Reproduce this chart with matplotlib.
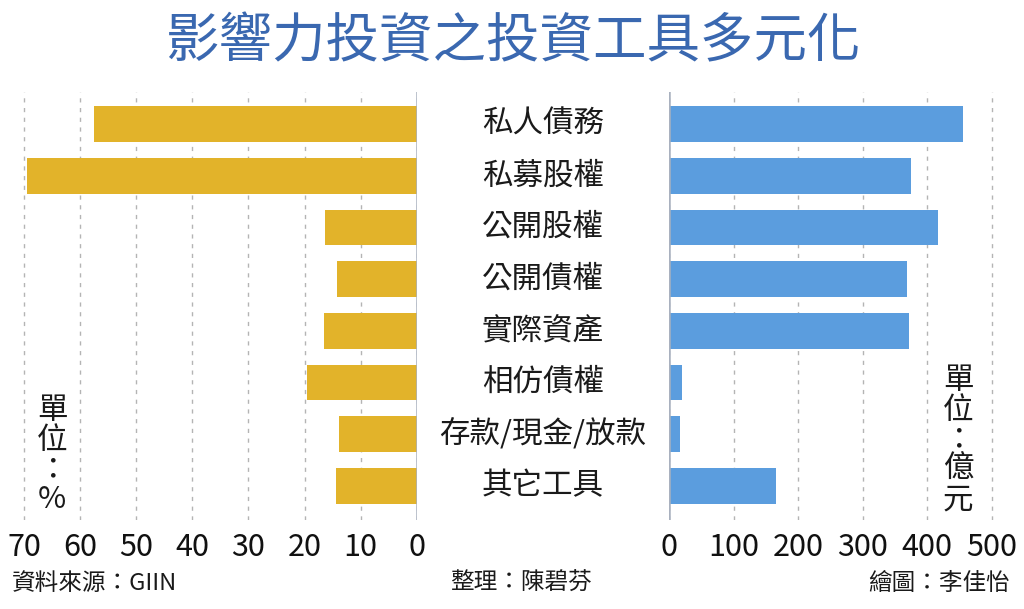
import matplotlib
matplotlib.use("Agg")
import matplotlib.pyplot as plt
from matplotlib.transforms import blended_transform_factory

plt.rcParams['font.family'] = ['Noto Sans CJK TC', 'DejaVu Sans']

# data
categories = ["私人債務", "私募股權", "公開股權", "公開債權", "實際資產", "相仿債權", "存款/現金/放款", "其它工具"]
share_pct = [57.5, 69.5, 16.3, 14.2, 16.5, 19.6, 13.8, 14.3]
amount_yi = [456, 374, 416, 369, 372, 20, 17, 166]
left_ticks = [0, 10, 20, 30, 40, 50, 60, 70]
right_ticks = [0, 100, 200, 300, 400, 500]

GOLD = "#e2b32a"
BLUE = "#5b9dde"
GRID = "#b4b4b4"
ZERO = "#a9b1bf"

fig = plt.figure(figsize=(10.24, 6.09), dpi=100)

ax_l = fig.add_axes([12.8 / 1024, 89 / 609, 403.9 / 1024, 428 / 609])
ax_r = fig.add_axes([669.3 / 1024, 89 / 609, 338.6 / 1024, 428 / 609])

ypos = list(range(len(categories)))

ax_l.barh(ypos, share_pct, height=0.69, color=GOLD, zorder=3)
ax_l.set_xlim(72, 0)
ax_l.set_xticks(left_ticks)

ax_r.barh(ypos, amount_yi, height=0.69, color=BLUE, zorder=3)
ax_r.set_xlim(0, 525)
ax_r.set_xticks(right_ticks)

for ax in (ax_l, ax_r):
    ax.set_ylim(7.66, -0.62)
    ax.set_yticks([])
    for s in ax.spines.values():
        s.set_visible(False)
    ax.tick_params(axis='x', length=0, pad=9, labelsize=22, labelcolor="#111111")
    ax.grid(axis='x', color=GRID, linestyle=(0, (3, 4)), linewidth=1, zorder=0)
    ax.axvline(0, color=ZERO, linewidth=1.8, zorder=4)

# category labels between the two panels
trans = blended_transform_factory(fig.transFigure, ax_l.transData)
for y, name in zip(ypos, categories):
    ax_l.text(543 / 1024, y, name, transform=trans, ha='center', va='center',
              fontsize=22, color="#1a1a1a", clip_on=False)

# unit notes, written vertically
fig.text(52 / 1024, 1 - 455 / 609, "單\n位\n：\n%", ha='center', va='center',
         fontsize=22, linespacing=0.95, color="#1a1a1a")
fig.text(958 / 1024, 1 - 440 / 609, "單\n位\n：\n億\n元", ha='center', va='center',
         fontsize=22, linespacing=0.95, color="#1a1a1a")

fig.text(0.5 * (165 + 860) / 1024, 1 - 42 / 609, "影響力投資之投資工具多元化",
         ha='center', va='center', fontsize=38.5, fontweight='medium', color="#3a68b0")

fig.text(12 / 1024, 1 - 583 / 609, "資料來源：GIIN", ha='left', va='center', fontsize=17, color="#1a1a1a")
fig.text(521 / 1024, 1 - 583 / 609, "整理：陳碧芬", ha='center', va='center', fontsize=17, color="#1a1a1a")
fig.text(1010 / 1024, 1 - 583 / 609, "繪圖：李佳怡", ha='right', va='center', fontsize=17, color="#1a1a1a")

fig.savefig("out.png", dpi=100, facecolor="white")
